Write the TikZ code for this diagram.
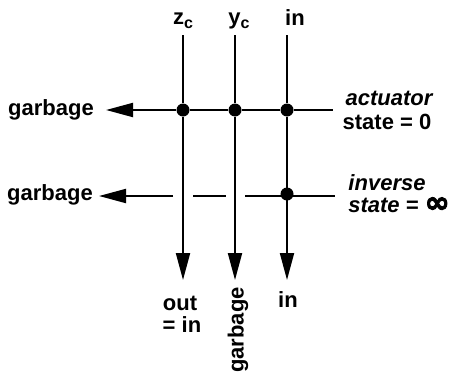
\documentclass[tikz,border=0pt]{standalone}
\usepackage{fontspec}
\setmainfont{Liberation Sans}
\newfontfamily\symbfont[FakeBold=3]{DejaVu Sans}
\usetikzlibrary{arrows.meta}
\newcommand{\subc}{\raisebox{-3.5pt}{\fontsize{16}{16}\selectfont c}}
\tikzset{
  lbl/.style={font=\bfseries\fontsize{22}{24}\selectfont, inner sep=0pt, align=center},
  wire/.style={line width=2pt},
  flow/.style={wire, -{Triangle[length=27pt, width=14pt]}},
  dot/.style={circle, fill=black, inner sep=0pt, minimum size=13pt},
}
\begin{document}
\begin{tikzpicture}[x=1pt, y=-1pt]
  \useasboundingbox (0, 0) rectangle (457, 375);
  % top ends
  \coordinate (zt) at (183, 35);
  \coordinate (yt) at (235, 35);
  \coordinate (it) at (287, 35);
  % bottom ends
  \coordinate (zb) at (183, 280);
  \coordinate (yb) at (235, 280);
  \coordinate (ib) at (287, 280);
  % first row
  \node[dot] (d1) at (183, 110) {};
  \node[dot] (d2) at (235, 110) {};
  \node[dot] (d3) at (287, 110) {};
  \coordinate (r1) at (333, 110);
  \coordinate (l1) at (106, 110);
  % second row
  \node[dot] (d4) at (287, 194) {};
  \coordinate (r2) at (335, 196);
  \coordinate (l2) at (99, 196);
  \coordinate (g1) at (173, 196);
  \coordinate (g2) at (193, 196);
  \coordinate (g3) at (226, 196);
  \coordinate (g4) at (245, 196);
  \draw[wire] (zt) -- (d1);
  \draw[wire] (yt) -- (d2);
  \draw[wire] (it) -- (d3);
  \draw[flow] (d1) -- (zb);
  \draw[flow] (d2) -- (yb);
  \draw[flow] (d3) -- (ib);
  \draw[flow] (d1) -- (l1);
  \draw[wire] (d1) -- (d2);
  \draw[wire] (d2) -- (d3);
  \draw[wire] (d3) -- (r1);
  \draw[flow] (g1) -- (l2);
  \draw[wire] (g2) -- (g3);
  \draw[wire] (g4) -- (r2);
  % labels
  \node[lbl] (zc) at (183, 21) {z\subc};
  \node[lbl] (yc) at (239, 21) {y\subc};
  \node[lbl] (in) at (295, 18) {in};
  \node[lbl] (g5) at (51, 110) {garbage};
  \node[lbl] (g6) at (50, 195) {garbage};
  \node[lbl] (a1) at (389, 98) {\itshape actuator};
  \node[lbl] (a2) at (387, 122) {state = 0};
  \node[lbl] (b1) at (387, 183) {\itshape inverse};
  \node[lbl] (b2) at (399, 205) {\itshape state = {\symbfont\fontsize{30}{30}\selectfont ∞}};
  \node[lbl] (o1) at (180, 303) {out};
  \node[lbl] (o2) at (182, 325) {= in};
  \node[lbl, rotate=90] (g7) at (238, 330) {garbage};
  \node[lbl] (in2) at (288, 300) {in};
\end{tikzpicture}
\end{document}
